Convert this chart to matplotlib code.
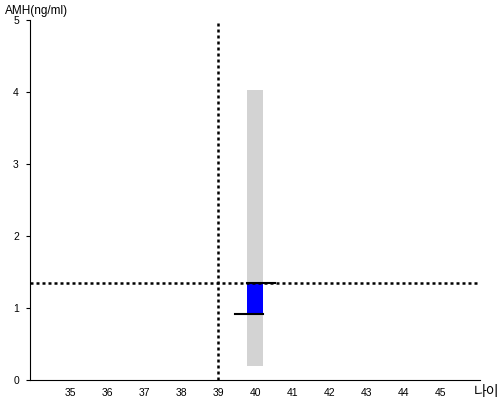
import matplotlib.pyplot as plt

plt.rcParams['font.family'] = ['Liberation Sans', 'Noto Sans CJK KR', 'DejaVu Sans']

# data
age = 40
amh_range = (0.19, 4.03)     # grey reference band
amh_value = 1.35              # measured AMH
amh_low = 0.92                # lower mark
ref_age = 39
x_ticks = list(range(35, 46))
y_ticks = [0, 1, 2, 3, 4, 5]

fig = plt.figure(figsize=(5, 4), dpi=100)
ax = fig.add_axes([0.06, 0.05, 0.9, 0.9])

bar_w = 0.44
# grey band
ax.bar(age, amh_range[1] - amh_range[0], bottom=amh_range[0], width=bar_w,
       color='#d3d3d3', zorder=1)
# blue bar
ax.bar(age, amh_value - amh_low, bottom=amh_low, width=bar_w,
       color='#0000ff', zorder=2)
# black marks at top and bottom
ax.plot([age - bar_w / 2, age + 0.53], [amh_value, amh_value], color='black', lw=1.5, zorder=3)
ax.plot([age - 0.54, age + bar_w / 2], [amh_low, amh_low], color='black', lw=1.5, zorder=3)

# dotted reference lines
ax.axvline(ref_age, color='black', ls=(0, (1.2, 1.2)), lw=1.8, zorder=2)
ax.axhline(amh_value, color='black', ls=(0, (1.2, 1.2)), lw=1.8, zorder=2)

ax.set_xlim(33.92, 46.07)
ax.set_ylim(0, 5)
ax.set_xticks(x_ticks)
ax.set_yticks(y_ticks)
ax.tick_params(axis='x', length=0, labelsize=7.5, pad=6)
ax.tick_params(axis='y', length=3, labelsize=7.5, pad=5)
for s in ['top', 'right']:
    ax.spines[s].set_visible(False)

fig.text(0.01, 0.988, 'AMH(ng/ml)', fontsize=8.5, va='top', ha='left')
fig.text(0.998, 0.003, '나이', fontsize=10, va='bottom', ha='right')

fig.savefig('out.png', dpi=100)
